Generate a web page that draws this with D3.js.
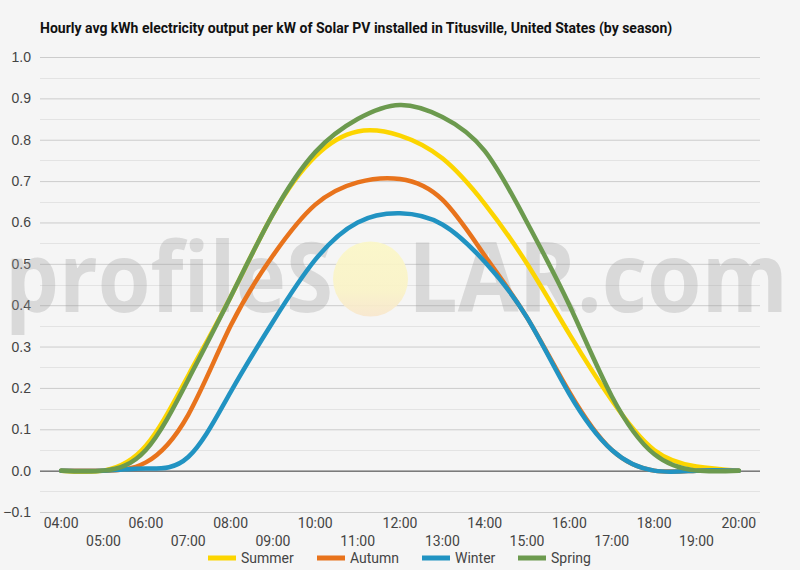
<!DOCTYPE html>
<html>
<head>
<meta charset="utf-8">
<script src="https://cdnjs.cloudflare.com/ajax/libs/d3/7.8.5/d3.min.js"></script>
<style>
  body { margin: 0; background: #f5f5f5; }
  svg { display: block; font-family: Roboto, "Noto Sans", sans-serif; }
</style>
</head>
<body>
<div class="chart"></div>
<script>
var hours = ["04:00", "05:00", "06:00", "07:00", "08:00", "09:00", "10:00", "11:00", "12:00",
  "13:00", "14:00", "15:00", "16:00", "17:00", "18:00", "19:00", "20:00"];
var seasons = ["Summer", "Autumn", "Winter", "Spring"];
var colors = ["#fcd500", "#e8731c", "#2193c2", "#6c9a4e"];

var summer = [0, 0, 0.06, 0.23, 0.42, 0.62, 0.76, 0.82, 0.81, 0.755, 0.645, 0.50, 0.33, 0.17, 0.05, 0.01, 0];
var autumn = [0, 0, 0.02, 0.135, 0.35, 0.52, 0.643, 0.697, 0.705, 0.655, 0.52, 0.37, 0.19, 0.05, 0, 0, 0];
var winter = [0, 0, 0.005, 0.033, 0.19, 0.36, 0.51, 0.60, 0.622, 0.595, 0.505, 0.37, 0.185, 0.05, 0, 0, 0];
var spring = [0, 0, 0.05, 0.22, 0.42, 0.62, 0.77, 0.85, 0.884, 0.855, 0.773, 0.60, 0.40, 0.18, 0.04, 0, 0];

var yTicks = [-0.1, 0, 0.1, 0.2, 0.3, 0.4, 0.5, 0.6, 0.7, 0.8, 0.9, 1.0];
var series = [summer, autumn, winter, spring];

var width = 800, height = 570;
var margin = {top: 57, right: 40, bottom: 58, left: 40};

var svg = d3.select(".chart")
  .append("svg")
    .attr("width", width)
    .attr("height", height);

svg.append("rect")
  .attr("width", width)
  .attr("height", height)
  .attr("fill", "#f5f5f5");

var x = d3.scalePoint()
  .domain(hours)
  .range([margin.left, width - margin.right])
  .padding(0.5);

var y = d3.scaleLinear()
  .domain([-0.1, 1.0])
  .range([height - margin.bottom, margin.top]);

// minor gridlines
var minor = d3.range(-0.05, 1.0, 0.1);
svg.append("g")
  .selectAll("line")
  .data(minor)
  .enter()
  .append("line")
    .attr("x1", margin.left)
    .attr("x2", width - margin.right)
    .attr("y1", function(d) { return Math.round(y(d)) + 0.5; })
    .attr("y2", function(d) { return Math.round(y(d)) + 0.5; })
    .attr("stroke", "#e3e3e3");

// major gridlines + y labels
var yAxis = svg.append("g")
  .attr("transform", "translate(" + margin.left + ",0)")
  .call(d3.axisLeft(y)
    .tickValues(yTicks)
    .tickSize(-(width - margin.left - margin.right))
    .tickPadding(9)
    .tickFormat(d3.format(".1f")));
yAxis.select(".domain").remove();
yAxis.selectAll(".tick line")
  .attr("stroke", function(d) { return d === 0 ? "#333" : "#cccccc"; });
yAxis.selectAll(".tick text")
  .attr("fill", "#444")
  .style("font-size", "14px");

// watermark: profileS(sun)LAR.com
var wm = svg.append("g")
  .style("font-family", "'Open Sans', Roboto, sans-serif")
  .style("font-weight", "bold")
  .style("font-size", "97px")
  .attr("fill", "#999")
  .attr("fill-opacity", 0.3);
wm.append("text")
  .attr("x", 5)
  .attr("y", 312)
  .attr("textLength", 328)
  .attr("lengthAdjust", "spacingAndGlyphs")
  .text("profileS");
wm.append("text")
  .attr("x", 408)
  .attr("y", 312)
  .attr("textLength", 380)
  .attr("lengthAdjust", "spacingAndGlyphs")
  .text("LAR.com");
var grad = svg.append("defs").append("linearGradient")
  .attr("id", "sun").attr("x1", 0).attr("y1", 0).attr("x2", 0).attr("y2", 1);
grad.append("stop").attr("offset", "0%").attr("stop-color", "#fbf7c6");
grad.append("stop").attr("offset", "65%").attr("stop-color", "#faf3c6");
grad.append("stop").attr("offset", "100%").attr("stop-color", "#f8e6cc");
svg.append("circle")
  .attr("cx", 370.5)
  .attr("cy", 279)
  .attr("r", 37.5)
  .attr("fill", "url(#sun)")
  .attr("fill-opacity", 0.9);

// lines
var line = d3.line()
  .x(function(d, i) { return x(hours[i]); })
  .y(function(d) { return y(d); })
  .curve(d3.curveNatural);

svg.append("g")
  .selectAll("path")
  .data(series)
  .enter()
  .append("path")
    .attr("d", line)
    .attr("fill", "none")
    .attr("stroke", function(d, i) { return colors[i]; })
    .attr("stroke-width", 4.5)
    .attr("stroke-linejoin", "round")
    .attr("stroke-linecap", "round");

// x labels, staggered on two rows
svg.append("g")
  .selectAll("text")
  .data(hours)
  .enter()
  .append("text")
    .attr("x", function(d) { return x(d); })
    .attr("y", function(d, i) { return i % 2 === 0 ? 528 : 546; })
    .attr("text-anchor", "middle")
    .attr("fill", "#444")
    .style("font-size", "14px")
    .text(function(d) { return d; });

// title
svg.append("text")
  .attr("x", 40)
  .attr("y", 33)
  .attr("fill", "#111")
  .style("font-size", "14px")
  .style("font-weight", "bold")
  .text("Hourly avg kWh electricity output per kW of Solar PV installed in Titusville, United States (by season)");

// legend
var legendX = [208, 317, 422, 518];
var legend = svg.append("g")
  .selectAll("g")
  .data(seasons)
  .enter()
  .append("g")
    .attr("transform", function(d, i) { return "translate(" + legendX[i] + ",558)"; });
legend.append("rect")
  .attr("x", 0)
  .attr("y", -2.5)
  .attr("width", 28)
  .attr("height", 5)
  .attr("fill", function(d, i) { return colors[i]; });
legend.append("text")
  .attr("x", 33)
  .attr("y", 5)
  .attr("fill", "#444")
  .style("font-size", "14px")
  .text(function(d) { return d; });
</script>
</body>
</html>
